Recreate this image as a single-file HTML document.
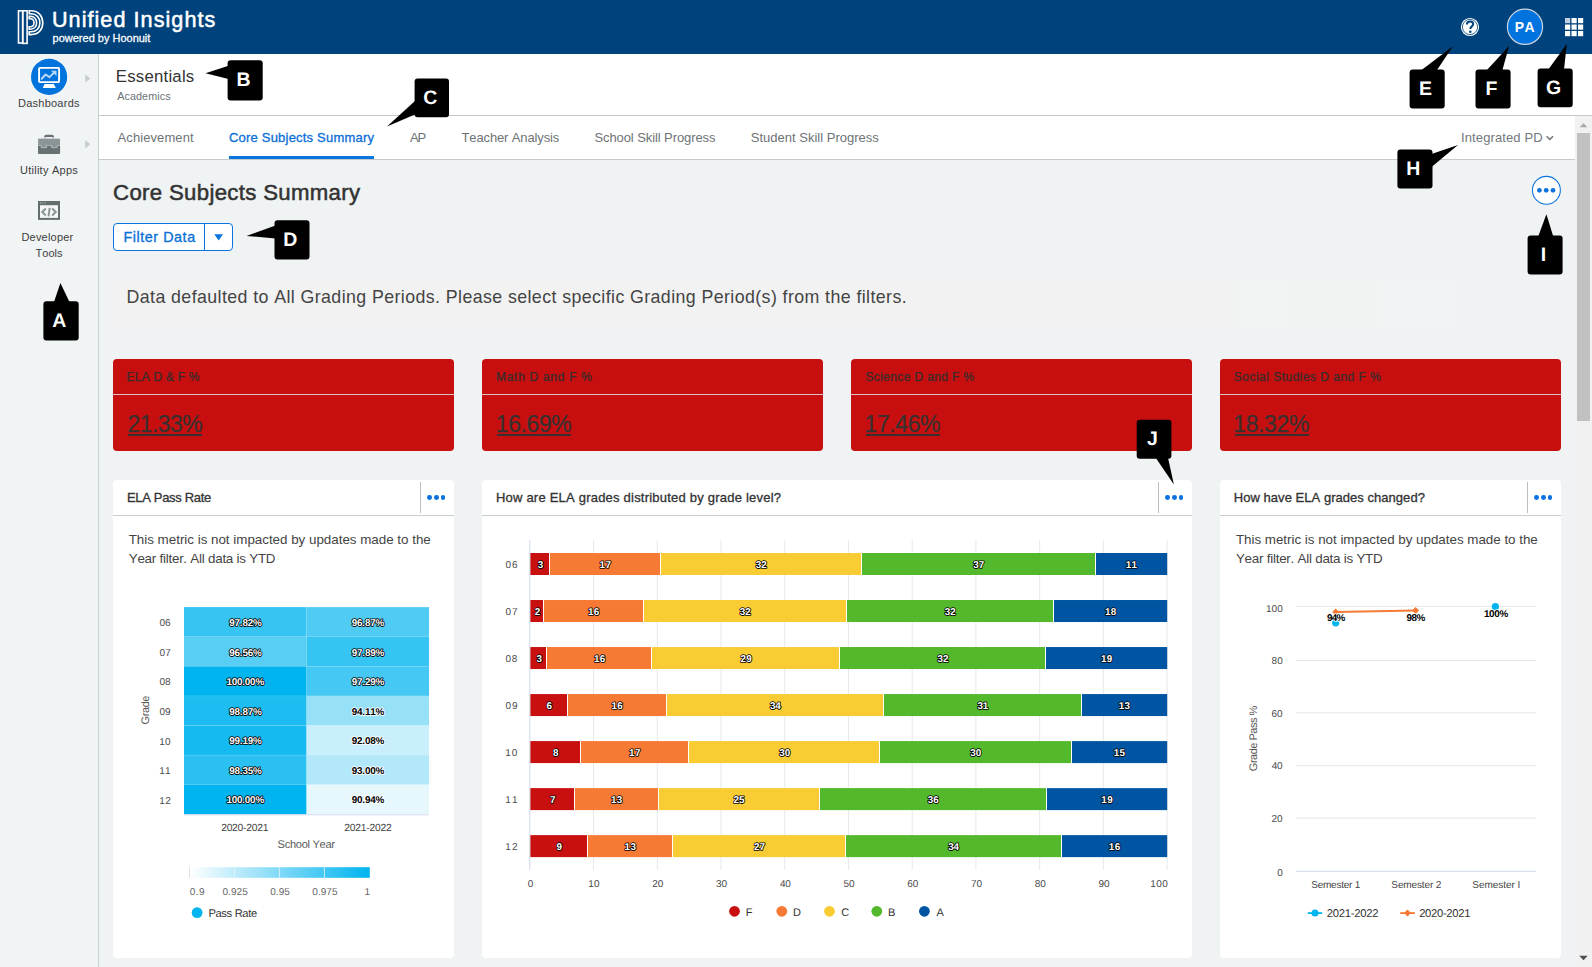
<!DOCTYPE html>
<html>
<head>
<meta charset="utf-8">
<title>Unified Insights</title>
<style>
*{box-sizing:border-box;margin:0;padding:0}
html,body{width:1592px;height:967px;overflow:hidden;background:#f0f3f4;font-family:"Liberation Sans",sans-serif;color:#333}
#topbar{position:absolute;left:0;top:0;width:1592px;height:54px;background:#00427c}
#sidebar{position:absolute;left:0;top:54px;width:99px;height:913px;background:#f1f4f5;border-right:1px solid #c9ced1}
#pagehead{position:absolute;left:99px;top:54px;width:1493px;height:62px;background:#fff;border-bottom:1px solid #c5cacd}
#tabs{position:absolute;left:99px;top:116px;width:1476px;height:44px;background:#fff;border-bottom:1px solid #c5cacd}
.t{position:absolute;white-space:nowrap;line-height:1;font-kerning:none;font-variant-ligatures:none}
.kpi{position:absolute;top:359px;width:341px;height:92px;background:#c70f0f;border-radius:4px}
.kpi .hd{position:absolute;left:0;top:0;width:100%;height:36px;border-bottom:1px solid #dcc3c3}
.card{position:absolute;top:480px;height:478px;background:#fff;border-radius:4px}
.card .chd{position:absolute;left:0;top:0;width:100%;height:36px;border-bottom:1px solid #c9cdd0}
.card .sep{position:absolute;right:33px;top:2px;width:1px;height:31px;background:#b9bec0}
.dots{position:absolute;width:17px;height:5px}
.dots i{position:absolute;top:0;width:4.8px;height:4.8px;border-radius:50%;background:#0a72e0}
.co{position:absolute;background:#000;border-radius:3px}
svg{position:absolute;left:0;top:0;overflow:visible}
svg text{font-family:"Liberation Sans",sans-serif;text-rendering:geometricPrecision;font-kerning:none;font-variant-ligatures:none}
</style>
</head>
<body>
<div id="topbar"></div><div id="sidebar"></div><div id="pagehead"></div><div id="tabs"></div>
<svg width="60" height="54" viewBox="0 0 60 54"><g fill="none" stroke="#fff" stroke-width="1.6">
<rect x="18.5" y="10.8" width="4.2" height="32.2"/><rect x="22.7" y="10.8" width="4.4" height="32.6"/>
<path d="M29.2 10.8 H31 C39 10.8 42.8 16.5 42.8 22.8 C42.8 29 39 34.6 31 34.6 H29.2 V31.8 H31 C36.5 31.8 39.9 27.8 39.9 22.8 C39.9 17.6 36.5 13.8 31 13.8 H29.2 Z"/>
<path d="M29.2 16.4 H30.4 C34.4 16.4 36.6 19.2 36.6 22.8 C36.6 26.3 34.4 29.2 30.4 29.2 H29.2 V26.8 H30.2 C32.6 26.8 34 25 34 22.8 C34 20.6 32.6 18.8 30.2 18.8 H29.2 Z"/></g></svg>
<div class="t" style="left:51.93px;top:9px;font-size:21.60px;color:#fff;letter-spacing:1.051px;-webkit-text-stroke:0.52px #fff;">Unified Insights</div>
<div class="t" style="left:52.59px;top:33px;font-size:11.00px;color:#fff;letter-spacing:-0.003px;-webkit-text-stroke:0.26px #fff;">powered by Hoonuit</div>
<svg width="1592" height="54"><circle cx="1470" cy="27" r="9.1" fill="#fff"/><circle cx="1470" cy="27" r="7.6" fill="none" stroke="#00427c" stroke-width="0.8"/><path d="M1466.9 24.6 C1466.9 22.3 1468.3 21.4 1470.1 21.4 C1472 21.4 1473.2 22.5 1473.2 24.1 C1473.2 26.4 1470.3 26.4 1470.3 29" fill="none" stroke="#00427c" stroke-width="2"/><circle cx="1470.3" cy="31.8" r="1.25" fill="#00427c"/><circle cx="1525" cy="26.8" r="17.6" fill="#0073de" stroke="#cdd6e0" stroke-width="1.2"/>
<rect x="1565.0" y="18.0" width="5.2" height="5.2" fill="#fff" opacity="0.75"/>
<rect x="1571.5" y="18.0" width="5.2" height="5.2" fill="#fff" opacity="1"/>
<rect x="1578.0" y="18.0" width="5.2" height="5.2" fill="#fff" opacity="1"/>
<rect x="1565.0" y="24.5" width="5.2" height="5.2" fill="#fff" opacity="1"/>
<rect x="1571.5" y="24.5" width="5.2" height="5.2" fill="#fff" opacity="1"/>
<rect x="1578.0" y="24.5" width="5.2" height="5.2" fill="#fff" opacity="1"/>
<rect x="1565.0" y="31.0" width="5.2" height="5.2" fill="#fff" opacity="1"/>
<rect x="1571.5" y="31.0" width="5.2" height="5.2" fill="#fff" opacity="1"/>
<rect x="1578.0" y="31.0" width="5.2" height="5.2" fill="#fff" opacity="1"/>
</svg>
<div class="t" style="left:1514.76px;top:20px;font-size:14.00px;color:#fff;font-weight:bold;letter-spacing:0.457px;">PA</div>
<svg width="99" height="300" viewBox="0 0 99 300">
<circle cx="49.1" cy="76.9" r="18.1" fill="#0073dd"/>
<rect x="39.1" y="67.9" width="20" height="14.2" rx="0.8" fill="#0073dd" stroke="#fff" stroke-width="1.9"/>
<path d="M44.6 84 H53.8 L55.8 88.1 H42.7 Z" fill="#fff"/>
<path d="M41.7 78.7 L45.6 74.5 L49.5 77.1 L54 72.6" fill="none" stroke="#b9d8f6" stroke-width="2" stroke-linecap="round" stroke-linejoin="round"/>
<path d="M50.9 70.7 H56.5 V76.1 Z" fill="#b9d8f6"/>
<path d="M85.2 74.5 L90.2 78.5 L85.2 82.6 Z" fill="#c6cbcd"/>
<path d="M85.2 140.1 L90.2 144.3 L85.2 148.6 Z" fill="#c6cbcd"/>
<rect x="45.2" y="135.9" width="7.8" height="4.5" rx="1.2" fill="none" stroke="#697375" stroke-width="2.2"/>
<rect x="38" y="145" width="22.1" height="8.9" rx="0.8" fill="#677173"/>
<path d="M38 138.9 Q38 138.2 38.8 138.2 H59.3 Q60.1 138.2 60.1 138.9 V145.1 H56.9 V147.6 H51.8 V145.1 H46.4 V147.6 H41.3 V145.1 H38 Z" fill="#8b9597" stroke="#eef1f2" stroke-width="0.8" stroke-linejoin="round" paint-order="stroke"/>
<rect x="37.5" y="137.5" width="23.1" height="1" fill="#f1f4f5"/><rect x="37.4" y="138" width="0.7" height="7" fill="#f1f4f5"/><rect x="60.05" y="138" width="0.7" height="7" fill="#f1f4f5"/>
<rect x="39" y="202" width="20" height="16.9" fill="#f4f6f7" stroke="#646e70" stroke-width="2"/>
<rect x="38" y="201" width="22" height="4.2" fill="#646e70"/>
<rect x="40.1" y="202.5" width="0.9" height="0.9" fill="#dfe3e4"/><rect x="42.3" y="202.5" width="0.9" height="0.9" fill="#dfe3e4"/><rect x="44.6" y="202.5" width="0.9" height="0.9" fill="#dfe3e4"/>
<path d="M45.8 208.6 L42.3 212 L45.8 215.4 M52.2 208.6 L55.7 212 L52.2 215.4" fill="none" stroke="#8c9597" stroke-width="2.1"/>
<path d="M49.7 207.8 L48.5 216.3" fill="none" stroke="#8c9597" stroke-width="2"/>
</svg>
<div class="t" style="left:18.00px;top:98px;font-size:11.00px;color:#3d3d3d;letter-spacing:0.243px;">Dashboards</div>
<div class="t" style="left:20.05px;top:165px;font-size:11.00px;color:#3d3d3d;letter-spacing:0.248px;">Utility Apps</div>
<div class="t" style="left:21.40px;top:232px;font-size:11.00px;color:#3d3d3d;letter-spacing:0.218px;">Developer</div>
<div class="t" style="left:35.55px;top:248px;font-size:11.00px;color:#3d3d3d;letter-spacing:0.012px;">Tools</div>
<div class="t" style="left:115.82px;top:69px;font-size:16.80px;color:#333;letter-spacing:0.213px;">Essentials</div>
<div class="t" style="left:117.18px;top:91px;font-size:10.80px;color:#6d7275;letter-spacing:0.074px;">Academics</div>
<div class="t" style="left:117.57px;top:131px;font-size:13.00px;color:#6e7376;letter-spacing:0.087px;">Achievement</div>
<div class="t" style="left:409.97px;top:131px;font-size:13.00px;color:#6e7376;letter-spacing:-1.031px;">AP</div>
<div class="t" style="left:461.51px;top:131px;font-size:13.00px;color:#6e7376;letter-spacing:-0.130px;">Teacher Analysis</div>
<div class="t" style="left:594.41px;top:131px;font-size:13.00px;color:#6e7376;letter-spacing:-0.088px;">School Skill Progress</div>
<div class="t" style="left:750.71px;top:131px;font-size:13.00px;color:#6e7376;letter-spacing:0.013px;">Student Skill Progress</div>
<div class="t" style="left:229.04px;top:131px;font-size:13.00px;color:#0b6fd6;letter-spacing:0.200px;-webkit-text-stroke:0.31px #0b6fd6;">Core Subjects Summary</div>
<div style="position:absolute;left:229px;top:156px;width:145px;height:3px;background:#0b74de"></div>
<div class="t" style="left:1461.00px;top:131px;font-size:13.00px;color:#73787c;letter-spacing:0.117px;">Integrated PD</div>
<svg width="1592" height="200"><path d="M1546.6 136.3 L1549.8 139.5 L1553 136.3" fill="none" stroke="#6e7376" stroke-width="1.5"/><circle cx="1546.4" cy="190.3" r="13.95" fill="#fff" stroke="#0b74de" stroke-width="1.1"/><circle cx="1539.4" cy="190.3" r="2.4" fill="#0b74de"/><circle cx="1546.2" cy="190.3" r="2.4" fill="#0b74de"/><circle cx="1553" cy="190.3" r="2.4" fill="#0b74de"/></svg>
<div class="t" style="left:113.07px;top:182px;font-size:22.20px;color:#333;letter-spacing:0.330px;-webkit-text-stroke:0.53px #333;">Core Subjects Summary</div>
<div style="position:absolute;left:113px;top:223px;width:120px;height:28px;border:1px solid #0b74de;border-radius:4px;background:#fff"></div>
<div style="position:absolute;left:204px;top:224px;width:1px;height:26px;background:#0b74de"></div>
<div class="t" style="left:123.43px;top:230px;font-size:14.30px;color:#0b6fd6;letter-spacing:0.572px;-webkit-text-stroke:0.34px #0b6fd6;">Filter Data</div>
<svg width="300" height="260"><path d="M214.3 234.2 H223 L218.65 240.4 Z" fill="#0b74de"/></svg>
<div style="position:absolute;left:113px;top:280px;width:1448px;height:50px;border-radius:4px;background:linear-gradient(to right,#f2f2f2 0%,#f2f2f2 72%,rgba(242,242,242,0) 96%)"></div>
<div class="t" style="left:126.54px;top:289px;font-size:17.80px;color:#444;letter-spacing:0.405px;">Data defaulted to All Grading Periods. Please select specific Grading Period(s) from the filters.</div>
<div style="position:absolute;left:1575px;top:116px;width:17px;height:851px;background:#f1f1f1"></div>
<div style="position:absolute;left:1577px;top:133px;width:13px;height:288px;background:#c1c1c1"></div>
<svg width="1592" height="967"><path d="M1579.6 127.3 L1583.5 123.2 L1587.4 127.3 Z" fill="#a8a8a8"/><path d="M1579.3 955.8 H1587.7 L1583.5 960.2 Z" fill="#505050"/></svg>
<div class="kpi" style="left:113px"><div class="hd"></div></div>
<div class="t" style="left:126.62px;top:371px;font-size:12.00px;color:#352c2c;letter-spacing:0.212px;-webkit-text-stroke:0.25px #352c2c;">ELA D &amp; F %</div>
<div class="t" style="left:127.44px;top:413px;font-size:23.00px;color:#383030;letter-spacing:-0.526px;-webkit-text-stroke:0.25px #383030;">21.33%</div>
<div style="position:absolute;left:128.1px;top:434.2px;width:74.4px;height:1.7px;background:#383030"></div>
<div class="kpi" style="left:482px"><div class="hd"></div></div>
<div class="t" style="left:496.02px;top:371px;font-size:12.00px;color:#352c2c;letter-spacing:0.709px;-webkit-text-stroke:0.25px #352c2c;">Math D and F %</div>
<div class="t" style="left:495.75px;top:413px;font-size:23.00px;color:#383030;letter-spacing:-0.407px;-webkit-text-stroke:0.25px #383030;">16.69%</div>
<div style="position:absolute;left:497.0px;top:434.2px;width:74.4px;height:1.7px;background:#383030"></div>
<div class="kpi" style="left:851px"><div class="hd"></div></div>
<div class="t" style="left:865.46px;top:371px;font-size:12.00px;color:#352c2c;letter-spacing:0.372px;-webkit-text-stroke:0.25px #352c2c;">Science D and F %</div>
<div class="t" style="left:864.55px;top:413px;font-size:23.00px;color:#383030;letter-spacing:-0.407px;-webkit-text-stroke:0.25px #383030;">17.46%</div>
<div style="position:absolute;left:865.8px;top:434.2px;width:74.4px;height:1.7px;background:#383030"></div>
<div class="kpi" style="left:1220px"><div class="hd"></div></div>
<div class="t" style="left:1233.86px;top:371px;font-size:12.00px;color:#352c2c;letter-spacing:0.474px;-webkit-text-stroke:0.25px #352c2c;">Social Studies D and F %</div>
<div class="t" style="left:1233.25px;top:413px;font-size:23.00px;color:#383030;letter-spacing:-0.367px;-webkit-text-stroke:0.25px #383030;">18.32%</div>
<div style="position:absolute;left:1234.5px;top:434.2px;width:74.6px;height:1.7px;background:#383030"></div>
<div class="card" style="left:113px;width:341px"><div class="chd"></div><div class="sep"></div><div class="dots" style="right:9.3px;top:15.1px"><i style="left:-0.8px"></i><i style="left:6px"></i><i style="left:12.8px"></i></div></div>
<div class="t" style="left:126.93px;top:491px;font-size:13.00px;color:#333;letter-spacing:-0.326px;-webkit-text-stroke:0.31px #333;">ELA Pass Rate</div>
<div class="card" style="left:482px;width:710px"><div class="chd"></div><div class="sep"></div><div class="dots" style="right:9.3px;top:15.1px"><i style="left:-0.8px"></i><i style="left:6px"></i><i style="left:12.8px"></i></div></div>
<div class="t" style="left:495.93px;top:491px;font-size:13.00px;color:#333;letter-spacing:0.216px;-webkit-text-stroke:0.31px #333;">How are ELA grades distributed by grade level?</div>
<div class="card" style="left:1220px;width:341px"><div class="chd"></div><div class="sep"></div><div class="dots" style="right:9.3px;top:15.1px"><i style="left:-0.8px"></i><i style="left:6px"></i><i style="left:12.8px"></i></div></div>
<div class="t" style="left:1233.83px;top:491px;font-size:13.00px;color:#333;letter-spacing:0.036px;-webkit-text-stroke:0.31px #333;">How have ELA grades changed?</div>
<div class="t" style="left:128.70px;top:533px;font-size:13.40px;color:#444;letter-spacing:-0.017px;">This metric is not impacted by updates made to the</div>
<div class="t" style="left:128.71px;top:552px;font-size:13.40px;color:#444;letter-spacing:-0.240px;">Year filter. All data is YTD</div>
<div class="t" style="left:1235.90px;top:533px;font-size:13.40px;color:#444;letter-spacing:-0.021px;">This metric is not impacted by updates made to the</div>
<div class="t" style="left:1235.91px;top:552px;font-size:13.40px;color:#444;letter-spacing:-0.240px;">Year filter. All data is YTD</div>
<svg width="1592" height="967">
<rect x="184.00" y="607.10" width="122.65" height="29.65" fill="#38c4f2"/>
<rect x="306.60" y="607.10" width="122.45" height="29.65" fill="#50cbf4"/>
<rect x="184.00" y="636.70" width="122.65" height="29.65" fill="#58cef5"/>
<rect x="306.60" y="636.70" width="122.45" height="29.65" fill="#36c4f2"/>
<rect x="184.00" y="666.30" width="122.65" height="29.65" fill="#00b4ef"/>
<rect x="306.60" y="666.30" width="122.45" height="29.65" fill="#45c8f3"/>
<rect x="184.00" y="695.90" width="122.65" height="29.65" fill="#1dbcf1"/>
<rect x="306.60" y="695.90" width="122.45" height="29.65" fill="#96e0f8"/>
<rect x="184.00" y="725.50" width="122.65" height="29.65" fill="#15baf0"/>
<rect x="306.60" y="725.50" width="122.45" height="29.65" fill="#caeffc"/>
<rect x="184.00" y="755.10" width="122.65" height="29.65" fill="#2ac0f2"/>
<rect x="306.60" y="755.10" width="122.45" height="29.65" fill="#b2e8fa"/>
<rect x="184.00" y="784.70" width="122.65" height="29.65" fill="#00b4ef"/>
<rect x="306.60" y="784.70" width="122.45" height="29.65" fill="#e7f8fd"/>
<rect x="184" y="636.30" width="245" height="0.8" fill="#fff" opacity="0.12"/>
<rect x="184" y="665.90" width="245" height="0.8" fill="#fff" opacity="0.12"/>
<rect x="184" y="695.50" width="245" height="0.8" fill="#fff" opacity="0.12"/>
<rect x="184" y="725.10" width="245" height="0.8" fill="#fff" opacity="0.12"/>
<rect x="184" y="754.70" width="245" height="0.8" fill="#fff" opacity="0.12"/>
<rect x="184" y="784.30" width="245" height="0.8" fill="#fff" opacity="0.12"/>
<rect x="306.2" y="607.1" width="0.8" height="207.2" fill="#fff" opacity="0.12"/>
<text x="229.26" y="626.05" font-size="9.90" fill="#fff" letter-spacing="-0.195" font-weight="bold" paint-order="stroke" stroke="#000" stroke-width="1.6" stroke-linejoin="round">97.82%</text>
<text x="351.76" y="626.05" font-size="9.90" fill="#fff" letter-spacing="-0.195" font-weight="bold" paint-order="stroke" stroke="#000" stroke-width="1.6" stroke-linejoin="round">96.87%</text>
<text x="159.51" y="626.20" font-size="10.00" fill="#4a4a4a" letter-spacing="0.007" >06</text>
<text x="229.26" y="656.15" font-size="9.90" fill="#fff" letter-spacing="-0.195" font-weight="bold" paint-order="stroke" stroke="#000" stroke-width="1.6" stroke-linejoin="round">96.56%</text>
<text x="351.76" y="656.15" font-size="9.90" fill="#fff" letter-spacing="-0.195" font-weight="bold" paint-order="stroke" stroke="#000" stroke-width="1.6" stroke-linejoin="round">97.89%</text>
<text x="159.51" y="655.80" font-size="10.00" fill="#4a4a4a" letter-spacing="0.071" >07</text>
<text x="226.58" y="685.15" font-size="9.90" fill="#fff" letter-spacing="-0.233" font-weight="bold" paint-order="stroke" stroke="#000" stroke-width="1.6" stroke-linejoin="round">100.00%</text>
<text x="351.76" y="685.15" font-size="9.90" fill="#fff" letter-spacing="-0.195" font-weight="bold" paint-order="stroke" stroke="#000" stroke-width="1.6" stroke-linejoin="round">97.29%</text>
<text x="159.51" y="685.40" font-size="10.00" fill="#4a4a4a" letter-spacing="0.002" >08</text>
<text x="229.26" y="715.05" font-size="9.90" fill="#fff" letter-spacing="-0.195" font-weight="bold" paint-order="stroke" stroke="#000" stroke-width="1.6" stroke-linejoin="round">98.87%</text>
<text x="351.76" y="715.05" font-size="9.90" fill="#000" letter-spacing="-0.195" font-weight="bold" paint-order="stroke" stroke="#fff" stroke-width="1.6" stroke-linejoin="round">94.11%</text>
<text x="159.51" y="715.00" font-size="10.00" fill="#4a4a4a" letter-spacing="0.041" >09</text>
<text x="229.26" y="744.35" font-size="9.90" fill="#fff" letter-spacing="-0.195" font-weight="bold" paint-order="stroke" stroke="#000" stroke-width="1.6" stroke-linejoin="round">99.19%</text>
<text x="351.76" y="744.35" font-size="9.90" fill="#000" letter-spacing="-0.195" font-weight="bold" paint-order="stroke" stroke="#fff" stroke-width="1.6" stroke-linejoin="round">92.08%</text>
<text x="159.14" y="744.60" font-size="10.00" fill="#4a4a4a" letter-spacing="0.329" >10</text>
<text x="229.26" y="773.95" font-size="9.90" fill="#fff" letter-spacing="-0.195" font-weight="bold" paint-order="stroke" stroke="#000" stroke-width="1.6" stroke-linejoin="round">98.35%</text>
<text x="351.76" y="773.95" font-size="9.90" fill="#000" letter-spacing="-0.195" font-weight="bold" paint-order="stroke" stroke="#fff" stroke-width="1.6" stroke-linejoin="round">93.00%</text>
<text x="159.14" y="774.20" font-size="10.00" fill="#4a4a4a" letter-spacing="0.427" >11</text>
<text x="226.58" y="803.05" font-size="9.90" fill="#fff" letter-spacing="-0.233" font-weight="bold" paint-order="stroke" stroke="#000" stroke-width="1.6" stroke-linejoin="round">100.00%</text>
<text x="351.76" y="803.05" font-size="9.90" fill="#000" letter-spacing="-0.195" font-weight="bold" paint-order="stroke" stroke="#fff" stroke-width="1.6" stroke-linejoin="round">90.94%</text>
<text x="159.14" y="803.80" font-size="10.00" fill="#4a4a4a" letter-spacing="0.442" >12</text>
<rect x="184" y="814.3" width="245" height="1" fill="#d5daea"/>
<text transform="translate(149.3,710.2) rotate(-90)" font-size="11" fill="#555" text-anchor="middle" letter-spacing="-0.4">Grade</text>
<text x="221.18" y="831.20" font-size="10.30" fill="#444" letter-spacing="-0.254" >2020-2021</text>
<text x="344.18" y="831.20" font-size="10.30" fill="#444" letter-spacing="-0.215" >2021-2022</text>
<text x="277.60" y="848.00" font-size="11.10" fill="#5a5a5a" letter-spacing="-0.308" >School Year</text>
<defs><linearGradient id="hg" x1="0" x2="1" y1="0" y2="0"><stop offset="0" stop-color="#fff"/><stop offset="1" stop-color="#00b4ef"/></linearGradient></defs>
<rect x="189.8" y="867.2" width="180" height="10.6" fill="url(#hg)"/>
<rect x="189.2" y="867.2" width="0.8" height="10.6" fill="#d9d9d9"/>
<rect x="234.2" y="867.2" width="0.9" height="10.6" fill="#e9f7fd" opacity="0.9"/>
<rect x="278.9" y="867.2" width="0.9" height="10.6" fill="#e9f7fd" opacity="0.9"/>
<rect x="323.9" y="867.2" width="0.9" height="10.6" fill="#e9f7fd" opacity="0.9"/>
<text x="189.81" y="894.90" font-size="10.00" fill="#666" letter-spacing="0.381" >0.9</text>
<text x="222.51" y="894.90" font-size="10.00" fill="#666" letter-spacing="0.047" >0.925</text>
<text x="270.31" y="894.90" font-size="10.00" fill="#666" letter-spacing="0.016" >0.95</text>
<text x="312.31" y="894.90" font-size="10.00" fill="#666" letter-spacing="0.047" >0.975</text>
<text x="364.44" y="894.90" font-size="10.00" fill="#666" letter-spacing="0.000" >1</text>
<circle cx="197.1" cy="912.6" r="5.4" fill="#00b4ef"/>
<text x="208.38" y="917.00" font-size="11.20" fill="#333" letter-spacing="-0.344" >Pass Rate</text>
</svg>
<svg width="1592" height="967">
<rect x="593.03" y="540.0" width="1" height="330.0" fill="#e6e8ee"/>
<rect x="656.76" y="540.0" width="1" height="330.0" fill="#e6e8ee"/>
<rect x="720.49" y="540.0" width="1" height="330.0" fill="#e6e8ee"/>
<rect x="784.22" y="540.0" width="1" height="330.0" fill="#e6e8ee"/>
<rect x="847.95" y="540.0" width="1" height="330.0" fill="#e6e8ee"/>
<rect x="911.68" y="540.0" width="1" height="330.0" fill="#e6e8ee"/>
<rect x="975.41" y="540.0" width="1" height="330.0" fill="#e6e8ee"/>
<rect x="1039.14" y="540.0" width="1" height="330.0" fill="#e6e8ee"/>
<rect x="1102.87" y="540.0" width="1" height="330.0" fill="#e6e8ee"/>
<rect x="1166.60" y="540.0" width="1" height="330.0" fill="#e6e8ee"/>
<rect x="529.30" y="540.0" width="1" height="330.0" fill="#ccd6eb"/>
<rect x="530.40" y="553.00" width="18.60" height="22" fill="#c81010"/>
<rect x="550.00" y="553.00" width="110.00" height="22" fill="#f67a33"/>
<rect x="661.00" y="553.00" width="200.00" height="22" fill="#f9cc33"/>
<rect x="862.00" y="553.00" width="233.00" height="22" fill="#53b82b"/>
<rect x="1096.00" y="553.00" width="71.20" height="22" fill="#0055a2"/>
<text x="537.82" y="567.90" font-size="9.90" fill="#fff" letter-spacing="0.000" font-weight="bold" paint-order="stroke" stroke="#000" stroke-width="1.6" stroke-linejoin="round">3</text>
<text x="599.48" y="567.90" font-size="9.90" fill="#fff" letter-spacing="0.447" font-weight="bold" paint-order="stroke" stroke="#000" stroke-width="1.6" stroke-linejoin="round">17</text>
<text x="755.77" y="567.90" font-size="9.90" fill="#fff" letter-spacing="0.012" font-weight="bold" paint-order="stroke" stroke="#000" stroke-width="1.6" stroke-linejoin="round">32</text>
<text x="973.17" y="567.90" font-size="9.90" fill="#fff" letter-spacing="0.050" font-weight="bold" paint-order="stroke" stroke="#000" stroke-width="1.6" stroke-linejoin="round">37</text>
<text x="1125.73" y="567.90" font-size="9.90" fill="#fff" letter-spacing="0.287" font-weight="bold" paint-order="stroke" stroke="#000" stroke-width="1.6" stroke-linejoin="round">11</text>
<text x="505.61" y="567.90" font-size="10.00" fill="#4a4a4a" letter-spacing="0.707" >06</text>
<rect x="530.40" y="600.02" width="12.60" height="22" fill="#c81010"/>
<rect x="544.00" y="600.02" width="99.00" height="22" fill="#f67a33"/>
<rect x="644.00" y="600.02" width="202.00" height="22" fill="#f9cc33"/>
<rect x="847.00" y="600.02" width="206.00" height="22" fill="#53b82b"/>
<rect x="1054.00" y="600.02" width="113.20" height="22" fill="#0055a2"/>
<text x="534.66" y="614.92" font-size="9.90" fill="#fff" letter-spacing="0.000" font-weight="bold" paint-order="stroke" stroke="#000" stroke-width="1.6" stroke-linejoin="round">2</text>
<text x="587.88" y="614.92" font-size="9.90" fill="#fff" letter-spacing="0.369" font-weight="bold" paint-order="stroke" stroke="#000" stroke-width="1.6" stroke-linejoin="round">16</text>
<text x="739.72" y="614.92" font-size="9.90" fill="#fff" letter-spacing="0.012" font-weight="bold" paint-order="stroke" stroke="#000" stroke-width="1.6" stroke-linejoin="round">32</text>
<text x="944.87" y="614.92" font-size="9.90" fill="#fff" letter-spacing="0.012" font-weight="bold" paint-order="stroke" stroke="#000" stroke-width="1.6" stroke-linejoin="round">32</text>
<text x="1104.93" y="614.92" font-size="9.90" fill="#fff" letter-spacing="0.316" font-weight="bold" paint-order="stroke" stroke="#000" stroke-width="1.6" stroke-linejoin="round">18</text>
<text x="505.61" y="614.92" font-size="10.00" fill="#4a4a4a" letter-spacing="0.771" >07</text>
<rect x="530.40" y="647.04" width="15.60" height="22" fill="#c81010"/>
<rect x="547.00" y="647.04" width="104.00" height="22" fill="#f67a33"/>
<rect x="652.00" y="647.04" width="187.00" height="22" fill="#f9cc33"/>
<rect x="840.00" y="647.04" width="205.00" height="22" fill="#53b82b"/>
<rect x="1046.00" y="647.04" width="121.20" height="22" fill="#0055a2"/>
<text x="536.52" y="661.94" font-size="9.90" fill="#fff" letter-spacing="0.000" font-weight="bold" paint-order="stroke" stroke="#000" stroke-width="1.6" stroke-linejoin="round">3</text>
<text x="593.98" y="661.94" font-size="9.90" fill="#fff" letter-spacing="0.369" font-weight="bold" paint-order="stroke" stroke="#000" stroke-width="1.6" stroke-linejoin="round">16</text>
<text x="740.61" y="661.94" font-size="9.90" fill="#fff" letter-spacing="0.099" font-weight="bold" paint-order="stroke" stroke="#000" stroke-width="1.6" stroke-linejoin="round">29</text>
<text x="937.47" y="661.94" font-size="9.90" fill="#fff" letter-spacing="0.012" font-weight="bold" paint-order="stroke" stroke="#000" stroke-width="1.6" stroke-linejoin="round">32</text>
<text x="1100.88" y="661.94" font-size="9.90" fill="#fff" letter-spacing="0.379" font-weight="bold" paint-order="stroke" stroke="#000" stroke-width="1.6" stroke-linejoin="round">19</text>
<text x="505.61" y="661.94" font-size="10.00" fill="#4a4a4a" letter-spacing="0.702" >08</text>
<rect x="530.40" y="694.06" width="36.60" height="22" fill="#c81010"/>
<rect x="568.00" y="694.06" width="98.00" height="22" fill="#f67a33"/>
<rect x="667.00" y="694.06" width="216.00" height="22" fill="#f9cc33"/>
<rect x="884.00" y="694.06" width="197.00" height="22" fill="#53b82b"/>
<rect x="1082.00" y="694.06" width="85.20" height="22" fill="#0055a2"/>
<text x="546.59" y="708.96" font-size="9.90" fill="#fff" letter-spacing="0.000" font-weight="bold" paint-order="stroke" stroke="#000" stroke-width="1.6" stroke-linejoin="round">6</text>
<text x="611.38" y="708.96" font-size="9.90" fill="#fff" letter-spacing="0.369" font-weight="bold" paint-order="stroke" stroke="#000" stroke-width="1.6" stroke-linejoin="round">16</text>
<text x="770.07" y="708.96" font-size="9.90" fill="#fff" letter-spacing="-0.331" font-weight="bold" paint-order="stroke" stroke="#000" stroke-width="1.6" stroke-linejoin="round">34</text>
<text x="977.47" y="708.96" font-size="9.90" fill="#fff" letter-spacing="-0.109" font-weight="bold" paint-order="stroke" stroke="#000" stroke-width="1.6" stroke-linejoin="round">31</text>
<text x="1118.73" y="708.96" font-size="9.90" fill="#fff" letter-spacing="0.369" font-weight="bold" paint-order="stroke" stroke="#000" stroke-width="1.6" stroke-linejoin="round">13</text>
<text x="505.61" y="708.96" font-size="10.00" fill="#4a4a4a" letter-spacing="0.741" >09</text>
<rect x="530.40" y="741.08" width="49.60" height="22" fill="#c81010"/>
<rect x="581.00" y="741.08" width="107.00" height="22" fill="#f67a33"/>
<rect x="689.00" y="741.08" width="190.00" height="22" fill="#f9cc33"/>
<rect x="880.00" y="741.08" width="191.00" height="22" fill="#53b82b"/>
<rect x="1072.00" y="741.08" width="95.20" height="22" fill="#0055a2"/>
<text x="552.99" y="755.98" font-size="9.90" fill="#fff" letter-spacing="0.000" font-weight="bold" paint-order="stroke" stroke="#000" stroke-width="1.6" stroke-linejoin="round">8</text>
<text x="629.08" y="755.98" font-size="9.90" fill="#fff" letter-spacing="0.447" font-weight="bold" paint-order="stroke" stroke="#000" stroke-width="1.6" stroke-linejoin="round">17</text>
<text x="779.17" y="755.98" font-size="9.90" fill="#fff" letter-spacing="0.021" font-weight="bold" paint-order="stroke" stroke="#000" stroke-width="1.6" stroke-linejoin="round">30</text>
<text x="970.22" y="755.98" font-size="9.90" fill="#fff" letter-spacing="0.021" font-weight="bold" paint-order="stroke" stroke="#000" stroke-width="1.6" stroke-linejoin="round">30</text>
<text x="1113.73" y="755.98" font-size="9.90" fill="#fff" letter-spacing="0.287" font-weight="bold" paint-order="stroke" stroke="#000" stroke-width="1.6" stroke-linejoin="round">15</text>
<text x="505.24" y="755.98" font-size="10.00" fill="#4a4a4a" letter-spacing="1.029" >10</text>
<rect x="530.40" y="788.10" width="43.60" height="22" fill="#c81010"/>
<rect x="575.00" y="788.10" width="83.00" height="22" fill="#f67a33"/>
<rect x="659.00" y="788.10" width="160.00" height="22" fill="#f9cc33"/>
<rect x="820.00" y="788.10" width="226.00" height="22" fill="#53b82b"/>
<rect x="1047.00" y="788.10" width="120.20" height="22" fill="#0055a2"/>
<text x="550.12" y="803.00" font-size="9.90" fill="#fff" letter-spacing="0.000" font-weight="bold" paint-order="stroke" stroke="#000" stroke-width="1.6" stroke-linejoin="round">7</text>
<text x="610.93" y="803.00" font-size="9.90" fill="#fff" letter-spacing="0.369" font-weight="bold" paint-order="stroke" stroke="#000" stroke-width="1.6" stroke-linejoin="round">13</text>
<text x="733.56" y="803.00" font-size="9.90" fill="#fff" letter-spacing="0.007" font-weight="bold" paint-order="stroke" stroke="#000" stroke-width="1.6" stroke-linejoin="round">25</text>
<text x="927.72" y="803.00" font-size="9.90" fill="#fff" letter-spacing="-0.027" font-weight="bold" paint-order="stroke" stroke="#000" stroke-width="1.6" stroke-linejoin="round">36</text>
<text x="1101.33" y="803.00" font-size="9.90" fill="#fff" letter-spacing="0.379" font-weight="bold" paint-order="stroke" stroke="#000" stroke-width="1.6" stroke-linejoin="round">19</text>
<text x="505.24" y="803.00" font-size="10.00" fill="#4a4a4a" letter-spacing="1.127" >11</text>
<rect x="530.40" y="835.12" width="56.60" height="22" fill="#c81010"/>
<rect x="588.00" y="835.12" width="84.00" height="22" fill="#f67a33"/>
<rect x="673.00" y="835.12" width="172.00" height="22" fill="#f9cc33"/>
<rect x="846.00" y="835.12" width="215.00" height="22" fill="#53b82b"/>
<rect x="1062.00" y="835.12" width="105.20" height="22" fill="#0055a2"/>
<text x="556.61" y="850.02" font-size="9.90" fill="#fff" letter-spacing="0.000" font-weight="bold" paint-order="stroke" stroke="#000" stroke-width="1.6" stroke-linejoin="round">9</text>
<text x="624.58" y="850.02" font-size="9.90" fill="#fff" letter-spacing="0.369" font-weight="bold" paint-order="stroke" stroke="#000" stroke-width="1.6" stroke-linejoin="round">13</text>
<text x="753.91" y="850.02" font-size="9.90" fill="#fff" letter-spacing="0.166" font-weight="bold" paint-order="stroke" stroke="#000" stroke-width="1.6" stroke-linejoin="round">27</text>
<text x="948.27" y="850.02" font-size="9.90" fill="#fff" letter-spacing="-0.331" font-weight="bold" paint-order="stroke" stroke="#000" stroke-width="1.6" stroke-linejoin="round">34</text>
<text x="1108.78" y="850.02" font-size="9.90" fill="#fff" letter-spacing="0.369" font-weight="bold" paint-order="stroke" stroke="#000" stroke-width="1.6" stroke-linejoin="round">16</text>
<text x="505.24" y="850.02" font-size="10.00" fill="#4a4a4a" letter-spacing="1.142" >12</text>
<text x="527.66" y="887.00" font-size="10.00" fill="#4a4a4a" letter-spacing="0.000" >0</text>
<text x="588.27" y="887.00" font-size="10.00" fill="#4a4a4a" letter-spacing="0.229" >10</text>
<text x="652.26" y="887.00" font-size="10.00" fill="#4a4a4a" letter-spacing="-0.029" >20</text>
<text x="716.11" y="887.00" font-size="10.00" fill="#4a4a4a" letter-spacing="-0.152" >30</text>
<text x="779.99" y="887.00" font-size="10.00" fill="#4a4a4a" letter-spacing="-0.303" >40</text>
<text x="843.55" y="887.00" font-size="10.00" fill="#4a4a4a" letter-spacing="-0.132" >50</text>
<text x="907.17" y="887.00" font-size="10.00" fill="#4a4a4a" letter-spacing="-0.025" >60</text>
<text x="970.90" y="887.00" font-size="10.00" fill="#4a4a4a" letter-spacing="-0.020" >70</text>
<text x="1034.71" y="887.00" font-size="10.00" fill="#4a4a4a" letter-spacing="-0.098" >80</text>
<text x="1098.40" y="887.00" font-size="10.00" fill="#4a4a4a" letter-spacing="-0.064" >90</text>
<text x="1150.14" y="887.00" font-size="10.00" fill="#4a4a4a" letter-spacing="0.484" >100</text>
<circle cx="734.5" cy="911.3" r="5.4" fill="#c81010"/>
<text x="745.80" y="915.90" font-size="11.00" fill="#333" text-anchor="start" >F</text>
<circle cx="781.8" cy="911.3" r="5.4" fill="#f67a33"/>
<text x="793.10" y="915.90" font-size="11.00" fill="#333" text-anchor="start" >D</text>
<circle cx="829.5" cy="911.3" r="5.4" fill="#f9cc33"/>
<text x="841.14" y="915.90" font-size="11.00" fill="#333" text-anchor="start" >C</text>
<circle cx="876.8" cy="911.3" r="5.4" fill="#53b82b"/>
<text x="888.10" y="915.90" font-size="11.00" fill="#333" text-anchor="start" >B</text>
<circle cx="924.4" cy="911.3" r="5.4" fill="#0055a2"/>
<text x="936.58" y="915.90" font-size="11.00" fill="#333" text-anchor="start" >A</text>
</svg>
<svg width="1592" height="967">
<rect x="1296" y="605.8" width="240" height="1" fill="#e6e6e6"/>
<text x="1265.94" y="612.00" font-size="10.00" fill="#4a4a4a" letter-spacing="0.034" >100</text>
<rect x="1296" y="660.0" width="240" height="1" fill="#e6e6e6"/>
<text x="1271.47" y="664.20" font-size="10.00" fill="#4a4a4a" letter-spacing="0.102" >80</text>
<rect x="1296" y="712.3" width="240" height="1" fill="#e6e6e6"/>
<text x="1271.39" y="716.50" font-size="10.00" fill="#4a4a4a" letter-spacing="0.175" >60</text>
<rect x="1296" y="765.2" width="240" height="1" fill="#e6e6e6"/>
<text x="1271.67" y="769.40" font-size="10.00" fill="#4a4a4a" letter-spacing="-0.103" >40</text>
<rect x="1296" y="817.6" width="240" height="1" fill="#e6e6e6"/>
<text x="1271.40" y="821.80" font-size="10.00" fill="#4a4a4a" letter-spacing="0.171" >20</text>
<rect x="1296" y="870.8" width="240" height="1" fill="#ccd6eb"/>
<text x="1277.31" y="876.00" font-size="10.00" fill="#4a4a4a" letter-spacing="0.000" >0</text>
<text transform="translate(1257.2,738.7) rotate(-90)" font-size="11" fill="#555" text-anchor="middle" letter-spacing="-0.5">Grade Pass %</text>
<path d="M1335.7 612 L1415.6 610.6" stroke="#f67a33" stroke-width="2" fill="none"/>
<path d="M1335.7 608.5 l3.5 3.5 l-3.5 3.5 l-3.5 -3.5 Z" fill="#f67a33"/>
<path d="M1415.6 607.1 l3.5 3.5 l-3.5 3.5 l-3.5 -3.5 Z" fill="#f67a33"/>
<circle cx="1335.7" cy="622.8" r="3.6" fill="#00b4ef"/><circle cx="1495.4" cy="606.7" r="3.6" fill="#00b4ef"/>
<text x="1327.01" y="620.80" font-size="9.90" fill="#000" letter-spacing="-0.755" font-weight="bold" paint-order="stroke" stroke="#fff" stroke-width="1.6" stroke-linejoin="round">94%</text>
<text x="1406.46" y="620.80" font-size="9.90" fill="#000" letter-spacing="-0.505" font-weight="bold" paint-order="stroke" stroke="#fff" stroke-width="1.6" stroke-linejoin="round">98%</text>
<text x="1483.98" y="616.70" font-size="9.90" fill="#000" letter-spacing="-0.345" font-weight="bold" paint-order="stroke" stroke="#fff" stroke-width="1.6" stroke-linejoin="round">100%</text>
<text x="1311.25" y="887.90" font-size="10.00" fill="#444" letter-spacing="-0.243" >Semester 1</text>
<text x="1391.35" y="887.90" font-size="10.00" fill="#444" letter-spacing="-0.120" >Semester 2</text>
<text x="1472.35" y="887.90" font-size="10.00" fill="#444" letter-spacing="-0.053" >Semester I</text>
<path d="M1307.8 913.1 H1322.2" stroke="#00b4ef" stroke-width="1.8"/><circle cx="1315" cy="913.1" r="3.5" fill="#00b4ef"/>
<text x="1326.63" y="916.90" font-size="11.30" fill="#333" letter-spacing="-0.263" >2021-2022</text>
<path d="M1400.2 913.1 H1414.9" stroke="#f67a33" stroke-width="1.8"/><path d="M1407.5 909.6 l3.5 3.5 l-3.5 3.5 l-3.5 -3.5 Z" fill="#f67a33"/>
<text x="1419.13" y="916.90" font-size="11.30" fill="#333" letter-spacing="-0.340" >2020-2021</text>
</svg>
<svg width="1592" height="967" style="z-index:50">
<rect x="43.4" y="301.2" width="35.3" height="39.3" rx="3" fill="#000"/>
<path d="M60.4 283.0 L54.0 302.0 L69.5 302.0 Z" fill="#000"/>
<text x="59.4" y="326.9" font-size="19.5" font-weight="bold" fill="#fff" text-anchor="middle">A</text>
<rect x="227.6" y="60.3" width="35.1" height="40.2" rx="3" fill="#000"/>
<path d="M205.5 73.3 L228.5 65.8 L228.5 79.0 Z" fill="#000"/>
<text x="243.5" y="86.4" font-size="19.5" font-weight="bold" fill="#fff" text-anchor="middle">B</text>
<rect x="414.6" y="78.6" width="34.4" height="38.7" rx="3" fill="#000"/>
<path d="M387.0 126.4 L415.5 100.5 L415.5 114.3 Z" fill="#000"/>
<text x="430.2" y="103.9" font-size="19.5" font-weight="bold" fill="#fff" text-anchor="middle">C</text>
<rect x="274.5" y="220.2" width="35.0" height="39.3" rx="3" fill="#000"/>
<path d="M246.5 235.9 L275.5 225.6 L275.5 238.5 Z" fill="#000"/>
<text x="290.4" y="245.8" font-size="19.5" font-weight="bold" fill="#fff" text-anchor="middle">D</text>
<rect x="1409.6" y="69.6" width="35.1" height="38.8" rx="3" fill="#000"/>
<path d="M1452.9 46.3 L1420.9 70.5 L1436.7 70.5 Z" fill="#000"/>
<text x="1425.5" y="95.0" font-size="19.5" font-weight="bold" fill="#fff" text-anchor="middle">E</text>
<rect x="1475.5" y="69.6" width="35.1" height="38.8" rx="3" fill="#000"/>
<path d="M1509.1 46.1 L1486.5 70.5 L1502.3 70.5 Z" fill="#000"/>
<text x="1491.4" y="95.0" font-size="19.5" font-weight="bold" fill="#fff" text-anchor="middle">F</text>
<rect x="1537.6" y="68.5" width="35.1" height="38.8" rx="3" fill="#000"/>
<path d="M1566.8 44.0 L1548.3 69.5 L1564.0 69.5 Z" fill="#000"/>
<text x="1553.5" y="93.9" font-size="19.5" font-weight="bold" fill="#fff" text-anchor="middle">G</text>
<rect x="1397.4" y="149.5" width="35.1" height="39.0" rx="3" fill="#000"/>
<path d="M1458.0 144.9 L1431.5 153.9 L1431.5 167.0 Z" fill="#000"/>
<text x="1413.3" y="175.0" font-size="19.5" font-weight="bold" fill="#fff" text-anchor="middle">H</text>
<rect x="1527.6" y="235.4" width="35.0" height="39.1" rx="3" fill="#000"/>
<path d="M1546.4 214.2 L1538.2 236.4 L1553.3 236.4 Z" fill="#000"/>
<text x="1543.4" y="260.9" font-size="19.5" font-weight="bold" fill="#fff" text-anchor="middle">I</text>
<rect x="1136.7" y="419.7" width="34.7" height="39.0" rx="3" fill="#000"/>
<path d="M1173.9 484.5 L1155.7 457.7 L1168.0 457.7 Z" fill="#000"/>
<text x="1152.4" y="445.2" font-size="19.5" font-weight="bold" fill="#fff" text-anchor="middle">J</text>
</svg>
</body>
</html>
